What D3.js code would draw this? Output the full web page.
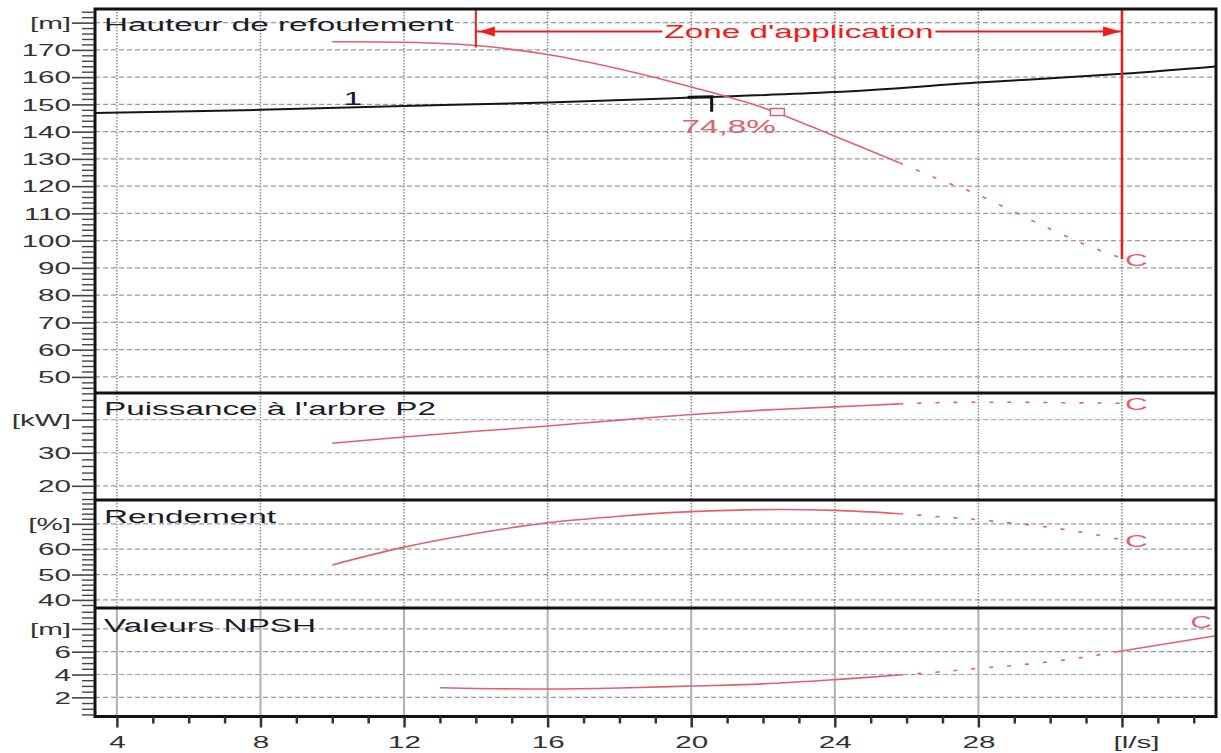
<!DOCTYPE html>
<html><head><meta charset="utf-8">
<script src="https://cdn.jsdelivr.net/npm/d3@7"></script>
<style>
body{margin:0;background:#fff}
svg{display:block}
text{font-family:"Liberation Sans",Arial,sans-serif}
</style>
</head><body>
<svg id="c" width="1221" height="753"></svg>
<script>
// ---------------- DATA ----------------
const xTicks = [4, 8, 12, 16, 20, 24, 28, 32];
const xTickLabels = ["4", "8", "12", "16", "20", "24", "28", "[l/s]"];

const headTicks = [50, 60, 70, 80, 90, 100, 110, 120, 130, 140, 150, 160, 170, 180];
const headTickLabels = ["50","60","70","80","90","100","110","120","130","140","150","160","170","[m]"];
const powerTicks = [20, 30, 40];
const powerTickLabels = ["20", "30", "[kW]"];
const effTicks = [40, 50, 60, 70];
const effTickLabels = ["40", "50", "60", "[%]"];
const npshTicks = [2, 4, 6, 8];
const npshTickLabels = ["2", "4", "6", "[m]"];

// pump head curve (solid part, then extrapolated dotted part)
const headQ = [10, 12, 14, 16, 18, 20, 22, 24, 25.8];
const headH = [173, 172.8, 171.6, 168.3, 163.0, 156.4, 148.8, 138.3, 128.6];
const headQExt = [25.8, 27, 28, 29, 30, 31, 32];
const headHExt = [128.6, 122.0, 116.8, 110.5, 104.3, 98.4, 93.6];

// system curve "1"
const sysQ = [3.39, 8, 12, 16, 20, 24, 28, 32, 34.62];
const sysH = [146.8, 148.0, 149.4, 150.7, 152.5, 154.5, 158.0, 161.2, 163.9];

// shaft power P2
const powQ = [10, 12, 14, 16, 18, 20, 22, 24, 25.8];
const powP = [32.9, 34.8, 36.5, 38.1, 39.9, 41.6, 42.9, 43.9, 44.8];
const powQExt = [25.8, 27, 28, 29, 30, 31, 32];
const powPExt = [44.8, 45.2, 45.3, 45.3, 45.2, 45.1, 45.0];

// efficiency
const effQ = [10, 12, 14, 16, 18, 20, 22, 24, 25.8];
const effE = [53.8, 60.8, 66.2, 70.4, 73.0, 74.8, 75.6, 75.3, 74.0];
const effQExt = [25.8, 27, 28, 29, 30, 31, 32];
const effEExt = [74.0, 72.7, 71.6, 70.2, 68.6, 66.4, 63.7];

// NPSH
const npshQ = [13, 14, 16, 18, 20, 22, 24, 25.8];
const npshN = [2.84, 2.78, 2.73, 2.82, 2.99, 3.18, 3.55, 3.96];
const npshQExt = [25.8, 27, 28, 29, 30, 31, 31.86];
const npshNExt = [3.96, 4.25, 4.54, 4.80, 5.12, 5.55, 6.0];
const npshQEnd = [31.86, 34.62];
const npshNEnd = [6.0, 7.4];

// duty point and annotations
const dutyQ = 20.57, dutyH = 152.8, dutyEffLabel = "74,8%";
const markerQ = 22.4, markerH = 147.2;
const zoneQ = [14, 32];
const zoneH = 176.7;
const zoneLabel = "Zone d'application";
const sysLabelQ = 10.57, sysLabel = "1";
const panelTitles = ["Hauteur de refoulement", "Puissance à l'arbre P2", "Rendement", "Valeurs NPSH"];

// ---------------- LAYOUT ----------------
const L = 95, R = 1216;
const SX = 1.85;          // horizontal text stretch of the original
const curveCol = "#e2616c", zoneCol = "#f01c1c";
const svg = d3.select("#c");

const x = d3.scaleLinear().domain([3.39, 34.62]).range([L, R]);
const yH = d3.scaleLinear().domain([44.1, 185]).range([393, 9]);
const yP = d3.scaleLinear().domain([15.7, 48.1]).range([500, 393]);
const yE = d3.scaleLinear().domain([36.8, 79.4]).range([608, 500]);
const yN = d3.scaleLinear().domain([0.32, 9.83]).range([716.5, 608]);

const panels = [
  {y: yH, ticks: headTicks, labels: headTickLabels, minor: d3.range(46, 185, 2), title: panelTitles[0], tb: 31},
  {y: yP, ticks: powerTicks, labels: powerTickLabels, minor: d3.range(16, 48.1, 2), title: panelTitles[1], tb: 415},
  {y: yE, ticks: effTicks, labels: effTickLabels, minor: d3.range(38, 79, 2), title: panelTitles[2], tb: 523},
  {y: yN, ticks: npshTicks, labels: npshTickLabels, minor: d3.range(0.5, 9.6, 0.5), title: panelTitles[3], tb: 632}
];

function stext(g, px, py, str, size, anchor, fill, weight) {
  return g.append("text")
    .attr("transform", `translate(${px},${py}) scale(${SX},1)`)
    .attr("text-anchor", anchor || "start")
    .style("font-size", size + "px")
    .style("font-weight", weight || "normal")
    .attr("fill", fill || "#222")
    .text(str);
}

// ---------------- GRID ----------------
const grid = svg.append("g");
panels.forEach((p, i) => {
  const [b, t] = p.y.range();
  grid.selectAll(null).data(p.ticks).enter().append("line")
    .attr("x1", L).attr("x2", R)
    .attr("y1", d => p.y(d)).attr("y2", d => p.y(d))
    .attr("stroke", "#9a9a9a").attr("stroke-width", 1.2)
    .attr("stroke-dasharray", "5,3");
  grid.selectAll(null).data(xTicks).enter().append("line")
    .attr("x1", d => x(d)).attr("x2", d => x(d))
    .attr("y1", t).attr("y2", b)
    .attr("stroke", i === 3 ? "#b0b0b0" : "#8a8a8a")
    .attr("stroke-width", i === 3 ? 2 : 1.5)
    .attr("stroke-dasharray", i === 3 ? null : "1.5,1.5");
});

// ---------------- CURVES ----------------
const cg = svg.append("g").attr("fill", "none");
function curve(qs, vs, ys, col, w, dash) {
  const line = d3.line().x(d => x(d[0])).y(d => ys(d[1])).curve(d3.curveCatmullRom.alpha(0.5));
  cg.append("path").datum(qs.map((q, i) => [q, vs[i]]))
    .attr("d", line).attr("stroke", col).attr("stroke-width", w)
    .attr("stroke-dasharray", dash || null);
}
curve(sysQ, sysH, yH, "#151515", 2);
curve(headQ, headH, yH, curveCol, 1.6);
curve(headQExt, headHExt, yH, curveCol, 1.6, "4,14");
curve(powQ, powP, yP, curveCol, 1.6);
curve(powQExt, powPExt, yP, curveCol, 1.6, "4,14");
curve(effQ, effE, yE, curveCol, 1.6);
curve(effQExt, effEExt, yE, curveCol, 1.6, "4,14");
curve(npshQ, npshN, yN, curveCol, 1.6);
curve(npshQExt, npshNExt, yN, curveCol, 1.6, "4,14");
curve(npshQEnd, npshNEnd, yN, curveCol, 1.6);

// ---------------- ZONE D'APPLICATION ----------------
const zg = svg.append("g");
const zx0 = x(zoneQ[0]), zx1 = x(zoneQ[1]);
const headAt = q => {
  const all = headQ.concat(headQExt.slice(1)), hv = headH.concat(headHExt.slice(1));
  return d3.scaleLinear().domain(all).range(hv)(q);
};
zg.append("line").attr("x1", zx0).attr("x2", zx0).attr("y1", yH.range()[1]).attr("y2", yH(headAt(zoneQ[0])) + 2)
  .attr("stroke", zoneCol).attr("stroke-width", 2);
zg.append("line").attr("x1", zx1).attr("x2", zx1).attr("y1", yH.range()[1]).attr("y2", yH(headAt(zoneQ[1])) + 1)
  .attr("stroke", zoneCol).attr("stroke-width", 2.5);
const zy = yH(zoneH);
const zt = stext(zg, (zx0 + zx1) / 2, zy + 6.5, zoneLabel, 18, "middle", zoneCol);
const zw = zt.node().getComputedTextLength() * SX;
const zmid = (zx0 + zx1) / 2;
zg.append("line").attr("x1", zx0).attr("x2", zmid - zw / 2 - 2).attr("y1", zy).attr("y2", zy)
  .attr("stroke", zoneCol).attr("stroke-width", 2);
zg.append("line").attr("x1", zmid + zw / 2 + 2).attr("x2", zx1).attr("y1", zy).attr("y2", zy)
  .attr("stroke", zoneCol).attr("stroke-width", 2);
zg.append("path").attr("d", `M${zx0 + 3},${zy} l16,-5 l0,10 z`).attr("fill", zoneCol);
zg.append("path").attr("d", `M${zx1 - 1},${zy} l-18,-5 l0,10 z`).attr("fill", zoneCol);

// ---------------- DUTY POINT ----------------
const dg = svg.append("g");
const dx = x(dutyQ), dy = yH(dutyH);
dg.append("path").attr("d", `M${dx - 24},${dy + 0.5} L${dx},${dy} L${dx},${dy + 15}`)
  .attr("fill", "none").attr("stroke", "#111").attr("stroke-width", 3);
stext(dg, dx + 17, dy + 36, dutyEffLabel, 18, "middle", curveCol);
dg.append("rect").attr("x", x(markerQ) - 7).attr("y", yH(markerH) - 3.5).attr("width", 14).attr("height", 7)
  .attr("fill", "#fff").attr("stroke", curveCol).attr("stroke-width", 1.5);
const sysAt = d3.scaleLinear().domain(sysQ).range(sysH);
stext(dg, x(sysLabelQ), yH(sysAt(sysLabelQ)) - 2, sysLabel, 18, "middle", "#1a1530");

// C labels
stext(dg, x(32) + 3, yH(headHExt[headHExt.length - 1]) + 8, "C", 17, "start", curveCol);
stext(dg, x(32) + 3, yP(powPExt[powPExt.length - 1]) + 7, "C", 17, "start", curveCol);
stext(dg, x(32) + 3, yE(effEExt[effEExt.length - 1]) + 7, "C", 17, "start", curveCol);
stext(dg, R - 4, yN(npshNEnd[1]) - 8, "C", 16, "end", curveCol);

// ---------------- FRAME ----------------
const fg = svg.append("g");
fg.append("rect").attr("x", L).attr("y", 9).attr("width", R - L).attr("height", 716.5 - 9)
  .attr("fill", "none").attr("stroke", "#111").attr("stroke-width", 3);
[393, 500, 608].forEach(v => fg.append("line").attr("x1", L).attr("x2", R).attr("y1", v).attr("y2", v)
  .attr("stroke", "#111").attr("stroke-width", 3));

// ---------------- AXES ----------------
panels.forEach(p => {
  const gm = svg.append("g").attr("transform", `translate(${L - 1},0)`)
    .call(d3.axisLeft(p.y).tickValues(p.minor.filter(v => !p.ticks.includes(v))).tickSize(12).tickFormat(""));
  gm.select(".domain").remove();
  gm.selectAll("line").attr("stroke", "#444").attr("stroke-width", 1.4);
  const g = svg.append("g").attr("transform", `translate(${L - 1},0)`)
    .call(d3.axisLeft(p.y).tickValues(p.ticks).tickSize(22).tickFormat((d, i) => p.labels[i]));
  g.select(".domain").remove();
  g.attr("font-size", null).attr("font-family", null);
  g.selectAll("line").attr("stroke", "#444").attr("stroke-width", 1.6);
  g.selectAll("text").attr("x", null).attr("dy", "0.36em")
    .attr("transform", `translate(-23,0) scale(${SX},1)`)
    .style("font-size", "16px").attr("fill", "#333");
  stext(svg, 104, p.tb, p.title, 18, "start", "#1c1c28");
});

const xm = svg.append("g").attr("transform", "translate(0,716.5)")
  .call(d3.axisBottom(x).tickValues(d3.range(4, 35, 1).filter(v => !xTicks.includes(v))).tickSize(7).tickFormat(""));
xm.select(".domain").remove();
xm.selectAll("line").attr("stroke", "#333").attr("stroke-width", 2.5);
const xa = svg.append("g").attr("transform", "translate(0,716.5)")
  .call(d3.axisBottom(x).tickValues(xTicks).tickSize(11).tickFormat((d, i) => xTickLabels[i]));
xa.select(".domain").remove();
xa.attr("font-size", null).attr("font-family", null);
xa.selectAll("line").attr("stroke", "#333").attr("stroke-width", 2.5);
xa.selectAll("text").attr("y", null).attr("dy", null)
  .attr("transform", d => `translate(${d === 32 ? 14 : 0},31) scale(${SX},1)`)
  .style("font-size", "16px").attr("fill", "#333");
</script>
</body></html>
